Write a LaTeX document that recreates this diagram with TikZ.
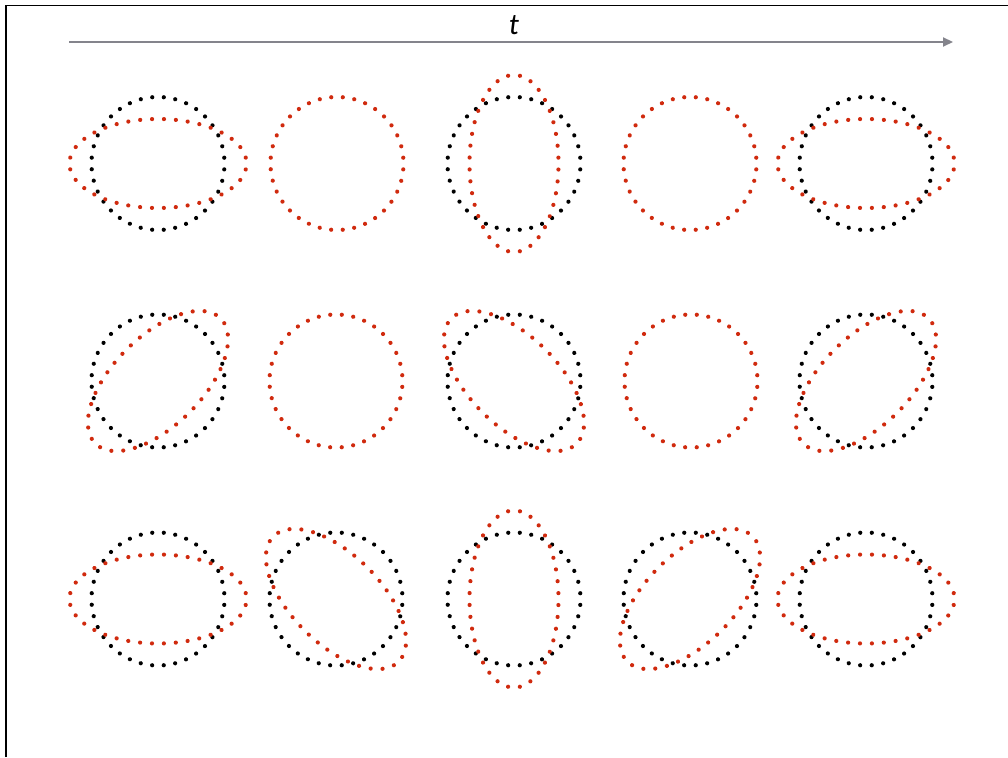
\documentclass[tikz,border=0pt]{standalone}
\usepackage{fontspec}
\setmainfont{Carlito}
\usetikzlibrary{arrows.meta,decorations.markings}
\definecolor{dotred}{RGB}{208,42,14}
\definecolor{arrowgray}{RGB}{132,132,140}
\tikzset{
  dotted ring/.style={decorate, decoration={markings,
      mark=between positions 0.013889 and 0.99 step 0.027778 with {\fill[#1] (0pt,0pt) circle[radius=2.1pt];}}},
  blackring/.style={dotted ring=black},
  redring/.style={dotted ring=dotred},
  frameline/.style={draw=black, line width=1.1pt},
  timearrow/.style={draw=arrowgray, line width=2pt, -{Triangle[length=10pt,width=9pt]}},
  timelabel/.style={font=\fontsize{30}{30}\selectfont\itshape, inner sep=0pt}
}
\newcommand{\deformedpanel}[3]{%
  \path[blackring] (#1,#2) circle[radius=66.5];
  \path[redring, rotate around={#3:(#1,#2)}] (#1,#2) ellipse[x radius=88.5, y radius=44.5];
}
\newcommand{\roundpanel}[2]{%
  \path[redring] (#1,#2) circle[radius=66.5];
}
\begin{document}
\begin{tikzpicture}[x=1pt, y=1pt]
  \useasboundingbox (0,0) rectangle (1008,-757);
  \fill[white] (0,0) rectangle (1008,-757);
  % frame (right and bottom edges lie outside the picture)
  \draw[frameline] (6,-757) -- (6,-5.5) -- (1008,-5.5);
  % time axis
  \coordinate (tstart) at (69,-42);
  \coordinate (tend) at (953,-42);
  \draw[timearrow] (tstart) -- (tend);
  \node[timelabel] (tlabel) at (514,-25) {t};
  % row 1: plus polarisation
  \deformedpanel{158}{-163.5}{0}
  \roundpanel{337}{-163.5}
  \deformedpanel{514}{-163.5}{90}
  \roundpanel{690}{-163.5}
  \deformedpanel{866}{-163.5}{0}
  % row 2: cross polarisation
  \deformedpanel{158}{-381}{45}
  \roundpanel{336}{-381}
  \deformedpanel{514}{-381}{135}
  \roundpanel{691}{-381}
  \deformedpanel{866}{-381}{45}
  % row 3: rotating
  \deformedpanel{158}{-599}{0}
  \deformedpanel{336}{-599}{135}
  \deformedpanel{514}{-599}{90}
  \deformedpanel{690}{-599}{45}
  \deformedpanel{866}{-599}{0}
\end{tikzpicture}
\end{document}
